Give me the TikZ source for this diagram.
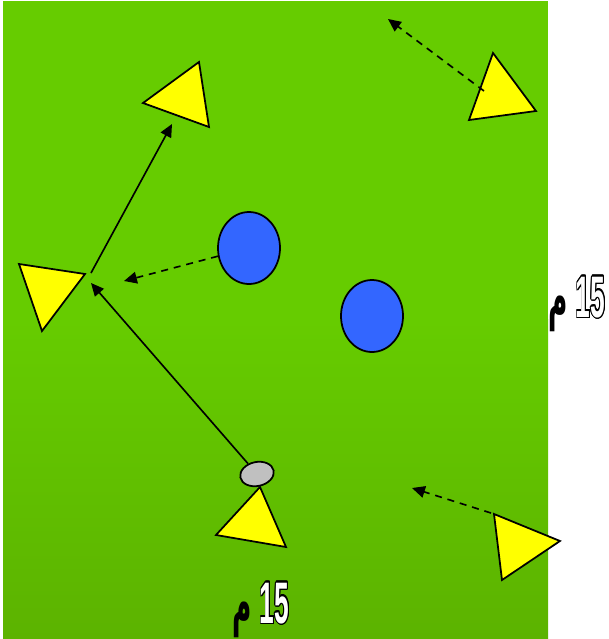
\documentclass[tikz,border=0pt]{standalone}
\usepackage{fontspec}
\usepackage[copies]{contour}
\usetikzlibrary{arrows.meta,shapes.geometric}
\newfontfamily\arabicfont[Script=Arabic]{DejaVu Sans}
\newfontfamily\digitfont{Liberation Sans}
\definecolor{pitch}{HTML}{66CC00}
\definecolor{pitchdark}{HTML}{5CB300}
\definecolor{cone}{HTML}{FFFF00}
\definecolor{player}{HTML}{3366FF}
\definecolor{ballgrey}{HTML}{C0C0C0}
\contourlength{1.4pt}
\newcommand{\distlabel}{\scalebox{0.45}[1]{\fontsize{50}{55}\selectfont{\arabicfont\bfseries م}\hspace{0.3em}\contour{black}{\textcolor{white}{\digitfont\bfseries 15}}}}

\begin{document}
\begin{tikzpicture}[x=0.03cm,y=-0.03cm,
    conestyle/.style={draw=black,fill=cone,line width=1.5pt,line join=miter},
    pass/.style={-{Triangle[length=11pt,width=10pt]},black,line width=1.4pt},
    run/.style={pass,dash pattern=on 6pt off 5pt}]
    \useasboundingbox (0,0) rectangle (608,639);
    \fill[pitch] (3,1) rectangle (548,320);
    \shade[top color=pitch,bottom color=pitchdark] (3,319) rectangle (548,639);

    % cones
    \draw[conestyle] (199,62) -- (143,103) -- (209,127) -- cycle;
    \draw[conestyle] (493,53) -- (469,120) -- (536,111) -- cycle;
    \draw[conestyle] (19,264) -- (85,274) -- (42,331) -- cycle;
    \draw[conestyle] (260,487) -- (216,535) -- (286,547) -- cycle;
    \draw[conestyle] (494,514) -- (560,541) -- (502,580) -- cycle;

    % players and ball
    \node (p1) at (249,248) [ellipse,draw,line width=1.5pt,fill=player,minimum width=1.86cm,minimum height=2.16cm] {};
    \node (p2) at (372,316) [ellipse,draw,line width=1.5pt,fill=player,minimum width=1.86cm,minimum height=2.16cm] {};
    \node (ball) at (257,474) [ellipse,draw,line width=1.5pt,fill=ballgrey,minimum width=1.02cm,minimum height=0.72cm,rotate=12] {};

    \coordinate (a1) at (91,283);
    \coordinate (b1) at (91,273);
    \coordinate (b2) at (172,124);
    \coordinate (c1) at (124,281);
    \coordinate (d1) at (484,91);
    \coordinate (d2) at (388,19);
    \coordinate (e1) at (491,513);
    \coordinate (e2) at (412,488);

    \path
    (ball) edge [pass] (a1)
    (b1) edge [pass] (b2)
    (p1) edge [run] (c1)
    (d1) edge [run] (d2)
    (e1) edge [run] (e2);

    % distances
    \node (w) at (577,304) {\distlabel};
    \node (h) at (261,610) {\distlabel};
\end{tikzpicture}
\end{document}
